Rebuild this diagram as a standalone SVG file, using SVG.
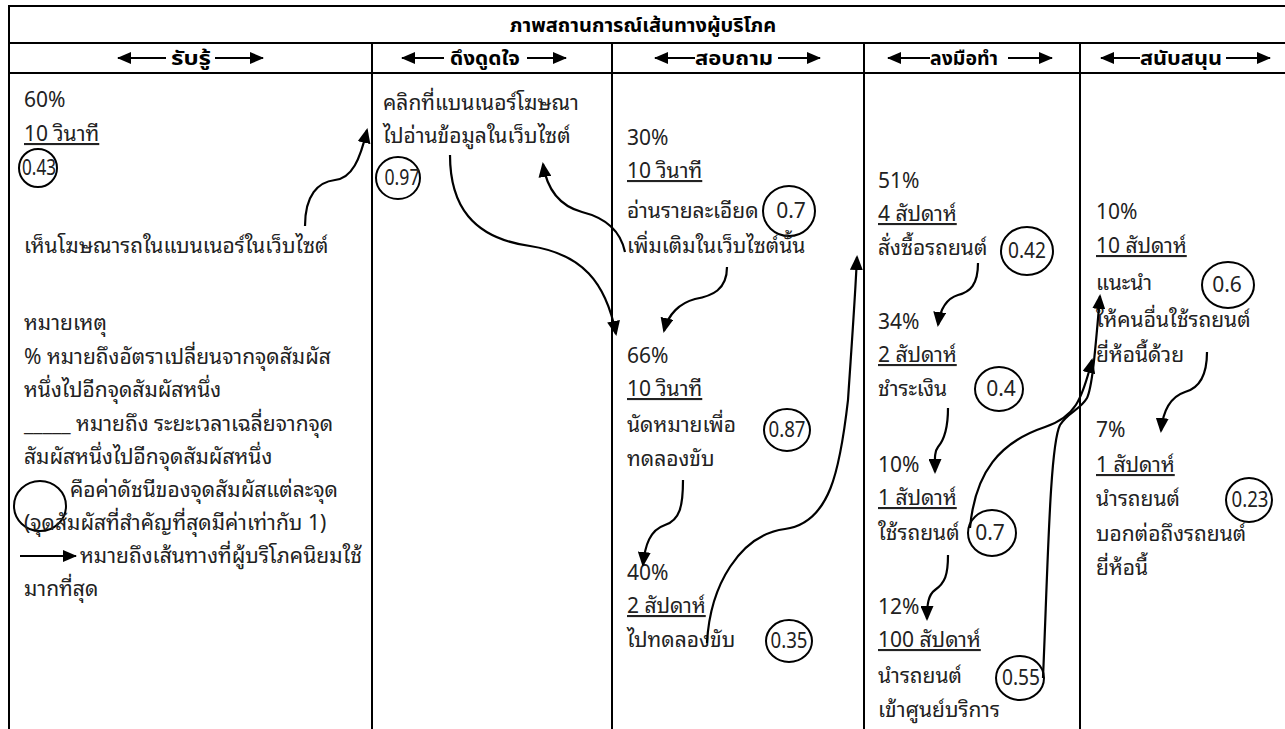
<svg xmlns="http://www.w3.org/2000/svg" width="1285" height="729" viewBox="0 0 1285 729">
<defs>
<marker id="ah" markerUnits="userSpaceOnUse" markerWidth="15" markerHeight="13" refX="13" refY="6.5" orient="auto"><path d="M0,0 L15,6.5 L0,13 z" fill="#000"/></marker>
<marker id="hh" markerUnits="userSpaceOnUse" markerWidth="14" markerHeight="12" refX="13" refY="6" orient="auto"><path d="M0,0 L14,6 L0,12 z" fill="#000"/></marker>
<style>
.t{font-family:"Noto Sans Thai Looped","Loma","Garuda","Noto Sans Thai","Noto Sans","DejaVu Sans",sans-serif;font-size:21px;fill:#222}
.n{font-family:"Noto Sans Thai Looped","Noto Sans","DejaVu Sans",sans-serif;font-size:21px;fill:#222;text-anchor:middle}
.h{font-family:"Noto Sans Thai","Noto Sans","DejaVu Sans",sans-serif;font-size:20px;font-weight:bold;fill:#000}
.ti{font-family:"Noto Sans Thai","Noto Sans","DejaVu Sans",sans-serif;font-size:20px;font-weight:bold;fill:#000}
.u{text-decoration:underline}
.c{fill:none;stroke:#000;stroke-width:2}
.ln{fill:none;stroke:#000;stroke-width:2}
.cn{fill:none;stroke:#000;stroke-width:2.2;marker-end:url(#ah)}
.ha{fill:none;stroke:#000;stroke-width:2;marker-end:url(#hh)}
</style>
</defs>
<rect width="1285" height="729" fill="#fff"/>
<g id="table">
<line class="ln" x1="8" y1="6" x2="1285" y2="6"/>
<line class="ln" x1="8" y1="43" x2="1285" y2="43"/>
<line class="ln" x1="8" y1="73" x2="1285" y2="73"/>
<line class="ln" x1="9" y1="5" x2="9" y2="729"/>
<line class="ln" x1="372" y1="43" x2="372" y2="729"/>
<line class="ln" x1="612" y1="43" x2="612" y2="729"/>
<line class="ln" x1="864" y1="43" x2="864" y2="729"/>
<line class="ln" x1="1080" y1="43" x2="1080" y2="729"/>
<text class="ti" x="643" y="32" text-anchor="middle">ภาพสถานการณ์เส้นทางผู้บริโภค</text>
</g>
<g id="header-awareness">
<line class="ha" x1="166" y1="58" x2="118" y2="58"/>
<text class="h" x="171" y="65" textLength="40" lengthAdjust="spacingAndGlyphs">รับรู้</text>
<line class="ha" x1="215" y1="58" x2="263" y2="58"/>
</g>
<g id="header-appeal">
<line class="ha" x1="444" y1="58" x2="402" y2="58"/>
<text class="h" x="450" y="65" textLength="70" lengthAdjust="spacingAndGlyphs">ดึงดูดใจ</text>
<line class="ha" x1="527" y1="58" x2="566" y2="58"/>
</g>
<g id="header-ask">
<line class="ha" x1="695" y1="58" x2="655" y2="58"/>
<text class="h" x="695" y="65" textLength="78" lengthAdjust="spacingAndGlyphs">สอบถาม</text>
<line class="ha" x1="778" y1="58" x2="820" y2="58"/>
</g>
<g id="header-act">
<line class="ha" x1="930" y1="58" x2="888" y2="58"/>
<text class="h" x="930" y="65" textLength="68" lengthAdjust="spacingAndGlyphs">ลงมือทำ</text>
<line class="ha" x1="1008" y1="58" x2="1052" y2="58"/>
</g>
<g id="header-advocate">
<line class="ha" x1="1140" y1="58" x2="1101" y2="58"/>
<text class="h" x="1140" y="65" textLength="82" lengthAdjust="spacingAndGlyphs">สนับสนุน</text>
<line class="ha" x1="1226" y1="58" x2="1270" y2="58"/>
</g>
<g id="n-see">
<text class="t" x="24" y="107">60%</text>
<text class="t u" x="24" y="141">10 วินาที</text>
<ellipse class="c" cx="38" cy="168" rx="19" ry="19"/>
<text class="n" x="39" y="175" textLength="34" lengthAdjust="spacingAndGlyphs">0.43</text>
<text class="t" x="24" y="253">เห็นโฆษณารถในแบนเนอร์ในเว็บไซต์</text>
</g>
<g id="legend">
<text class="t" x="24" y="330">หมายเหตุ</text>
<text class="t" x="24" y="364">% หมายถึงอัตราเปลี่ยนจากจุดสัมผัส</text>
<text class="t" x="24" y="397">หนึ่งไปอีกจุดสัมผัสหนึ่ง</text>
<text class="t" x="24" y="431">_____ หมายถึง ระยะเวลาเฉลี่ยจากจุด</text>
<text class="t" x="24" y="464">สัมผัสหนึ่งไปอีกจุดสัมผัสหนึ่ง</text>
<ellipse class="c" cx="40" cy="506" rx="26" ry="25"/>
<text class="t" x="70" y="497">คือค่าดัชนีของจุดสัมผัสแต่ละจุด</text>
<text class="t" x="24" y="530">(จุดสัมผัสที่สำคัญที่สุดมีค่าเท่ากับ 1)</text>
<line class="ha" x1="20" y1="556" x2="76" y2="556"/>
<text class="t" x="80" y="563">หมายถึงเส้นทางที่ผู้บริโภคนิยมใช้</text>
<text class="t" x="24" y="596">มากที่สุด</text>
</g>
<g id="n-click">
<text class="t" x="383" y="110">คลิกที่แบนเนอร์โฆษณา</text>
<text class="t" x="383" y="143">ไปอ่านข้อมูลในเว็บไซต์</text>
<ellipse class="c" cx="398" cy="178" rx="22" ry="21"/>
<text class="n" x="402" y="185" textLength="35" lengthAdjust="spacingAndGlyphs">0.97</text>
</g>
<g id="n-read">
<text class="t" x="627" y="145">30%</text>
<text class="t u" x="627" y="178">10 วินาที</text>
<text class="t" x="627" y="218">อ่านรายละเอียด</text>
<ellipse class="c" cx="789" cy="211" rx="26" ry="25"/>
<text class="n" x="791" y="218">0.7</text>
<text class="t" x="627" y="253">เพิ่มเติมในเว็บไซต์นั้น</text>
</g>
<g id="n-appoint">
<text class="t" x="627" y="363">66%</text>
<text class="t u" x="627" y="396">10 วินาที</text>
<text class="t" x="627" y="432">นัดหมายเพื่อ</text>
<ellipse class="c" cx="787" cy="430" rx="23" ry="21"/>
<text class="n" x="787" y="437" textLength="37" lengthAdjust="spacingAndGlyphs">0.87</text>
<text class="t" x="627" y="466">ทดลองขับ</text>
</g>
<g id="n-drive">
<text class="t" x="627" y="580">40%</text>
<text class="t u" x="627" y="613">2 สัปดาห์</text>
<text class="t" x="627" y="647">ไปทดลองขับ</text>
<ellipse class="c" cx="789" cy="641" rx="23" ry="21"/>
<text class="n" x="789" y="648" textLength="37" lengthAdjust="spacingAndGlyphs">0.35</text>
</g>
<g id="n-order">
<text class="t" x="878" y="188">51%</text>
<text class="t u" x="878" y="221">4 สัปดาห์</text>
<text class="t" x="878" y="255">สั่งซื้อรถยนต์</text>
<ellipse class="c" cx="1027" cy="251" rx="26" ry="24"/>
<text class="n" x="1027" y="258" textLength="38" lengthAdjust="spacingAndGlyphs">0.42</text>
</g>
<g id="n-pay">
<text class="t" x="878" y="329">34%</text>
<text class="t u" x="878" y="362">2 สัปดาห์</text>
<text class="t" x="878" y="396">ชำระเงิน</text>
<ellipse class="c" cx="999" cy="389" rx="24" ry="22"/>
<text class="n" x="1001" y="396">0.4</text>
</g>
<g id="n-use">
<text class="t" x="878" y="472">10%</text>
<text class="t u" x="878" y="505">1 สัปดาห์</text>
<text class="t" x="878" y="540">ใช้รถยนต์</text>
<ellipse class="c" cx="992" cy="533" rx="24" ry="23"/>
<text class="n" x="990" y="540">0.7</text>
</g>
<g id="n-service">
<text class="t" x="878" y="614">12%</text>
<text class="t u" x="878" y="647">100 สัปดาห์</text>
<text class="t" x="878" y="683">นำรถยนต์</text>
<ellipse class="c" cx="1020" cy="678" rx="24" ry="22"/>
<text class="n" x="1021" y="685" textLength="38" lengthAdjust="spacingAndGlyphs">0.55</text>
<text class="t" x="878" y="717">เข้าศูนย์บริการ</text>
</g>
<g id="n-recommend">
<text class="t" x="1096" y="219">10%</text>
<text class="t u" x="1096" y="253">10 สัปดาห์</text>
<text class="t" x="1096" y="290">แนะนำ</text>
<ellipse class="c" cx="1228" cy="285" rx="26" ry="23"/>
<text class="n" x="1227" y="292">0.6</text>
<text class="t" x="1096" y="327">ให้คนอื่นใช้รถยนต์</text>
<text class="t" x="1096" y="362">ยี่ห้อนี้ด้วย</text>
</g>
<g id="n-tell">
<text class="t" x="1096" y="437">7%</text>
<text class="t u" x="1096" y="472">1 สัปดาห์</text>
<text class="t" x="1096" y="506">นำรถยนต์</text>
<ellipse class="c" cx="1249" cy="500" rx="23" ry="22"/>
<text class="n" x="1250" y="507" textLength="37" lengthAdjust="spacingAndGlyphs">0.23</text>
<text class="t" x="1096" y="541">บอกต่อถึงรถยนต์</text>
<text class="t" x="1096" y="575">ยี่ห้อนี้</text>
</g>
<g id="connectors">
<path class="cn" d="M305,226 C305,195 318,182 335,180 C352,178 360,160 367,130"/>
<path class="cn" d="M450,155 C450,205 472,238 530,246 C582,254 606,282 616,334"/>
<path class="cn" d="M625,252 C620,228 602,217 582,212 C560,206 547,190 543,164"/>
<path class="cn" d="M727,267 C727,290 712,296 695,299 C680,303 668,314 664,331"/>
<path class="cn" d="M683,480 C683,506 680,520 665,525 C650,530 645,545 643,565"/>
<path class="cn" d="M707,643 C710,585 740,535 785,529 C830,523 840,470 848,400 C852,340 855,300 857,257"/>
<path class="cn" d="M978,263 C978,285 970,292 958,295 C945,299 940,310 938,325"/>
<path class="cn" d="M948,408 C948,430 944,440 938,447 C934,452 935,460 935,472"/>
<path class="cn" d="M948,555 C948,575 945,583 935,590 C928,595 927,605 927,619"/>
<path class="cn" d="M970,528 C975,472 1000,442 1045,427 C1075,417 1082,400 1092,360"/>
<path class="cn" d="M1043,678 C1048,560 1050,445 1060,425 C1068,412 1080,410 1087,398 C1093,385 1096,340 1100,296"/>
<path class="cn" d="M1207,352 C1207,375 1200,388 1185,392 C1170,397 1163,410 1161,431"/>
</g>
</svg>
